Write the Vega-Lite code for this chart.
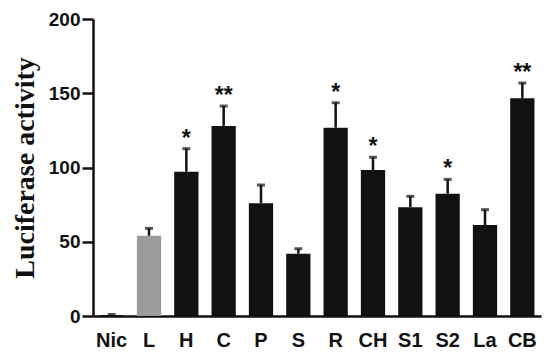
{
  "$schema": "https://vega.github.io/schema/vega-lite/v6.json",
  "autosize": "none",
  "width": 448,
  "height": 297,
  "padding": {"left": 93, "top": 19, "right": 9, "bottom": 40},
  "background": "white",
  "config": {"view": {"stroke": null}},
  "data": {"values": [
    {"g": "Nic", "v": 0.6, "hi": 1.0, "sig": "", "grp": "ctrl"},
    {"g": "L", "v": 54, "hi": 59, "sig": "", "grp": "L"},
    {"g": "H", "v": 97.2, "hi": 112.7, "sig": "*", "grp": "t"},
    {"g": "C", "v": 128, "hi": 141.4, "sig": "**", "grp": "t"},
    {"g": "P", "v": 75.9, "hi": 88.2, "sig": "", "grp": "t"},
    {"g": "S", "v": 42, "hi": 45.3, "sig": "", "grp": "t"},
    {"g": "R", "v": 126.8, "hi": 143.6, "sig": "*", "grp": "t"},
    {"g": "CH", "v": 98.3, "hi": 106.9, "sig": "*", "grp": "t"},
    {"g": "S1", "v": 73.2, "hi": 80.6, "sig": "", "grp": "t"},
    {"g": "S2", "v": 82.4, "hi": 92, "sig": "*", "grp": "t"},
    {"g": "La", "v": 61.3, "hi": 71.6, "sig": "", "grp": "t"},
    {"g": "CB", "v": 146.6, "hi": 156.9, "sig": "**", "grp": "t"}
  ]},
  "encoding": {
    "x": {
      "field": "g", "type": "nominal", "sort": null,
      "scale": {"paddingInner": 0.35, "paddingOuter": 0.175},
      "axis": {
        "title": null, "labelAngle": 0, "ticks": false,
        "labelFont": "Liberation Sans", "labelFontWeight": "bold", "labelFontSize": 20,
        "labelColor": "#111", "labelPadding": 14,
        "domainColor": "#111", "domainWidth": 2.5
      }
    }
  },
  "layer": [
    {
      "mark": {"type": "bar"},
      "encoding": {
        "y": {
          "field": "v", "type": "quantitative",
          "scale": {"domain": [0, 200]},
          "axis": {
            "values": [0, 50, 100, 150, 200], "grid": false,
            "title": "Luciferase activity",
            "titleFont": "Liberation Serif", "titleFontWeight": "bold", "titleFontSize": 28,
            "titleColor": "#111", "titleAngle": -90, "titleX": -60,
            "titleAlign": "center", "titleBaseline": "alphabetic",
            "labelFont": "Liberation Sans", "labelFontWeight": "bold", "labelFontSize": 19,
            "labelColor": "#111", "labelPadding": 2,
            "tickSize": 11, "tickWidth": 2.5, "tickColor": "#111",
            "domainColor": "#111", "domainWidth": 2.5
          }
        },
        "color": {
          "field": "grp", "type": "nominal", "legend": null,
          "scale": {"domain": ["ctrl", "L", "t"], "range": ["#111111", "#9a9c9b", "#111111"]}
        }
      }
    },
    {
      "mark": {"type": "rule", "color": "#111", "strokeWidth": 2.5},
      "encoding": {
        "y": {"field": "v", "type": "quantitative"},
        "y2": {"field": "hi"}
      }
    },
    {
      "mark": {"type": "tick", "color": "#111", "thickness": 3, "size": 8},
      "encoding": {
        "y": {"field": "hi", "type": "quantitative"}
      }
    },
    {
      "mark": {"type": "text", "color": "#111", "font": "Liberation Sans", "fontWeight": "bold", "fontSize": 23, "baseline": "alphabetic", "dy": -3},
      "encoding": {
        "y": {"field": "hi", "type": "quantitative"},
        "text": {"field": "sig"}
      }
    }
  ]
}
